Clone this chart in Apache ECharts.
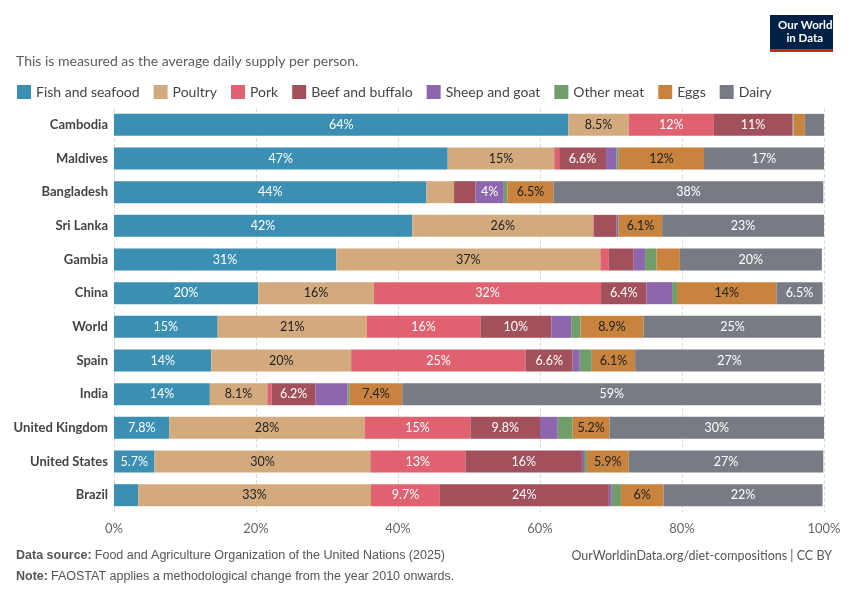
<!DOCTYPE html>
<html>
<head>
<meta charset="utf-8">
<script src="https://cdn.jsdelivr.net/npm/echarts@6/dist/echarts.min.js"></script>
<style>
  body { margin: 0; background: #fff; }
  #chart { width: 850px; height: 600px; }
</style>
</head>
<body>
<div id="chart"></div>
<script>
// countries top to bottom
var countries = ['Cambodia', 'Maldives', 'Bangladesh', 'Sri Lanka', 'Gambia', 'China', 'World',
  'Spain', 'India', 'United Kingdom', 'United States', 'Brazil'];
var seriesNames = ['Fish and seafood', 'Poultry', 'Pork', 'Beef and buffalo', 'Sheep and goat', 'Other meat', 'Eggs', 'Dairy'];
var colors = ['#3b8fb3', '#d3aa7e', '#e0616f', '#a2505c', '#8e66ae', '#6f9e6b', '#c8833f', '#787b84'];
var labelColors = ['#fff', '#222', '#fff', '#fff', '#fff', '#fff', '#222', '#fff'];

// shares in %, same order as countries
var fish    = [64, 47, 44, 42, 31.3, 20.3, 14.6, 13.7, 13.5, 7.8, 5.7, 3.4];
var poultry = [8.5, 15, 3.9, 25.5, 37.2, 16.3, 21, 19.7, 8.1, 27.5, 30.4, 32.8];
var pork    = [12, 0.7, 0, 0.1, 1.2, 32, 16, 24.6, 0.6, 14.9, 13.4, 9.7];
var beef    = [11, 6.6, 3, 3.2, 3.5, 6.4, 10, 6.6, 6.2, 9.8, 16.4, 23.8];
var sheep   = [0.1, 1.5, 4, 0.2, 1.6, 3.6, 2.8, 1, 4.5, 2.5, 0.3, 0.4];
var other   = [0.1, 0.3, 0.5, 0.1, 1.6, 0.7, 1.3, 1.7, 0.3, 2.1, 0.4, 1.3];
var eggs    = [1.6, 12, 6.5, 6.1, 3.3, 14, 8.9, 6.1, 7.4, 5.2, 5.9, 6];
var dairy   = [2.7, 17, 38, 23, 20, 6.5, 25, 26.6, 59, 30.2, 27.4, 22.4];
var allData = [fish, poultry, pork, beef, sheep, other, eggs, dairy];

var xTicks = [0, 20, 40, 60, 80, 100];
// labels the original leaves out
var hiddenLabels = { 'India|Sheep and goat': true };

function fmt(p) {
  var v = p.value;
  if (v < 4 || hiddenLabels[p.name + '|' + p.seriesName]) return '';
  if (v >= 10) return Math.round(v) + '%';
  return (+v.toFixed(1)) + '%';
}

var series = seriesNames.map(function (name, i) {
  return {
    name: name,
    type: 'bar',
    stack: 'total',
    barWidth: 22,
    itemStyle: { color: colors[i] },
    label: {
      show: true,
      color: labelColors[i],
      fontSize: 12.5,
      fontFamily: 'Lato',
      formatter: fmt
    },
    emphasis: { disabled: true },
    data: allData[i]
  };
});

var myChart = echarts.init(document.getElementById('chart'));
var option = {
  animation: false,
  textStyle: { fontFamily: 'Lato' },
  grid: { left: 114, right: 26, top: 108, bottom: 88 },
  legend: {
    left: 12, top: 80,
    itemWidth: 14, itemHeight: 14, itemGap: 14,
    icon: 'rect',
    textStyle: { fontSize: 14, color: '#444' },
    data: seriesNames
  },
  xAxis: {
    type: 'value', min: 0, max: 100, interval: 20,
    axisLabel: { formatter: '{value}%', color: '#666', fontSize: 13, margin: 10 },
    splitLine: { lineStyle: { type: 'dashed', color: '#ddd' } },
    axisLine: { show: false }, axisTick: { show: false }
  },
  yAxis: {
    type: 'category', inverse: true, data: countries,
    axisLabel: { fontWeight: 'bold', color: '#444', fontSize: 13, margin: 6 },
    axisLine: { show: false }, axisTick: { show: false }
  },
  graphic: [
    { type: 'text', left: 16, top: 54, style: { text: 'This is measured as the average daily supply per person.', fontSize: 14, fill: '#5b5b5b', fontFamily: 'Lato' } },
    { type: 'rect', left: 770, top: 15, shape: { width: 63, height: 34 }, style: { fill: '#002147' } },
    { type: 'rect', left: 770, top: 49, shape: { width: 63, height: 3 }, style: { fill: '#ce261e' } },
    { type: 'text', left: 778, top: 19, style: { text: 'Our World\n   in Data', fontSize: 11.5, fontWeight: 'bold', fill: '#fff', lineHeight: 13, fontFamily: 'Lato' } },
    { type: 'text', left: 16, top: 549, style: { rich: { b: { fontWeight: 'bold', fill: '#555', fontSize: 12.5 }, n: { fill: '#555', fontSize: 12.5 } }, text: '{b|Data source:} {n|Food and Agriculture Organization of the United Nations (2025)}', fontFamily: 'Lato' } },
    { type: 'text', right: 18, top: 549, style: { text: 'OurWorldinData.org/diet-compositions | CC BY', fill: '#555', fontSize: 12.5, fontFamily: 'Lato' } },
    { type: 'text', left: 16, top: 570, style: { rich: { b: { fontWeight: 'bold', fill: '#555', fontSize: 12.5 }, n: { fill: '#555', fontSize: 12.5 } }, text: '{b|Note:} {n|FAOSTAT applies a methodological change from the year 2010 onwards.}', fontFamily: 'Lato' } }
  ],
  series: series
};
myChart.setOption(option);
</script>
</body>
</html>
